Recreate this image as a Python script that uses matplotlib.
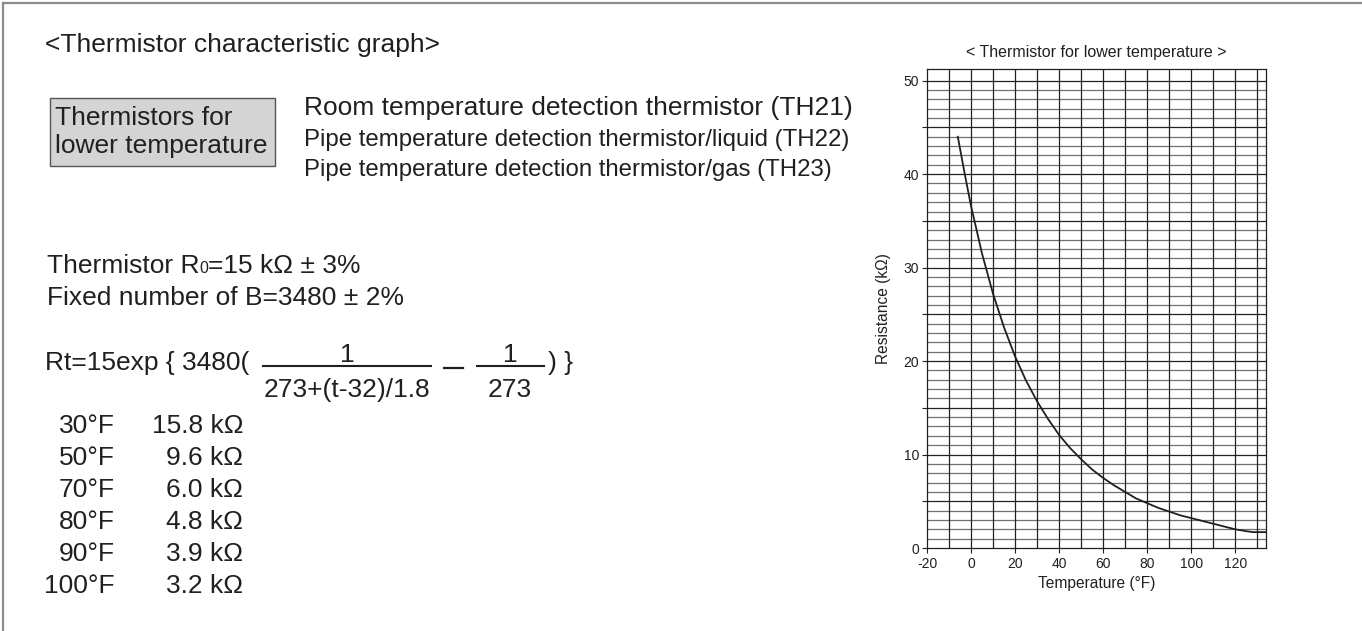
import numpy as np
import matplotlib
matplotlib.use("Agg")
import matplotlib.pyplot as plt
from matplotlib.lines import Line2D
from matplotlib.patches import Rectangle

plt.rcParams["font.family"] = ["Liberation Sans", "DejaVu Sans"]
plt.rcParams["axes.unicode_minus"] = False

W, H = 1362, 631
INK = "#231f20"

# curve: temperature (°F) vs resistance (kΩ)
temp_f = [-6, -3, 0, 5, 10, 15, 20, 25, 30, 35, 40, 45, 50, 55, 60, 65,
          70, 75, 80, 85, 90, 95, 100, 105, 110, 115, 120, 125, 128, 134]
res_kohm = [44.0, 40.2, 36.6, 31.5, 27.2, 23.6, 20.5, 17.9, 15.7, 13.8,
            12.1, 10.7, 9.5, 8.4, 7.5, 6.7, 6.0, 5.3, 4.8, 4.3, 3.9, 3.5,
            3.2, 2.9, 2.6, 2.3, 2.0, 1.8, 1.7, 1.7]

# table on the left
table_temps = ["30°F", "50°F", "70°F", "80°F", "90°F", "100°F"]
table_res = ["15.8 kΩ", "9.6 kΩ", "6.0 kΩ", "4.8 kΩ", "3.9 kΩ", "3.2 kΩ"]

sensor_lines = ["Room temperature detection thermistor (TH21)",
                "Pipe temperature detection thermistor/liquid (TH22)",
                "Pipe temperature detection thermistor/gas (TH23)"]

x_ticks = [-20, 0, 20, 40, 60, 80, 100, 120]
y_ticks = [0, 10, 20, 30, 40, 50]


def fx(x):
    return x / W


def fy(y):
    return 1 - y / H


fig = plt.figure(figsize=(W / 100, H / 100), dpi=100)

# outer frame (left and top edges visible)
fig.add_artist(Line2D([fx(3), fx(3)], [fy(3), fy(631)], color="#8c8c8c", lw=1.6))
fig.add_artist(Line2D([fx(3), fx(1362)], [fy(3), fy(3)], color="#8c8c8c", lw=1.6))

big = 19
fig.text(fx(45), fy(52), "<Thermistor characteristic graph>",
         fontsize=big, va="baseline", color=INK)

# grey box
fig.add_artist(Rectangle((fx(50), fy(166)), fx(275) - fx(50), fy(98) - fy(166),
                         transform=fig.transFigure, facecolor="#d4d4d4",
                         edgecolor="#555555", lw=1.0))
fig.text(fx(55), fy(125), "Thermistors for", fontsize=big, va="baseline", color=INK)
fig.text(fx(55), fy(153), "lower temperature", fontsize=big, va="baseline", color=INK)

fig.text(fx(304), fy(115), sensor_lines[0], fontsize=19, va="baseline", color=INK)
fig.text(fx(304), fy(146), sensor_lines[1], fontsize=17.3, va="baseline", color=INK)
fig.text(fx(304), fy(176), sensor_lines[2], fontsize=17.3, va="baseline", color=INK)

# R0 line with small 0
renderer = fig.canvas.get_renderer()
t1 = fig.text(fx(47), fy(273), "Thermistor R", fontsize=big, va="baseline", color=INK)
bb = t1.get_window_extent(renderer)
t2 = fig.text(bb.x1 / W, fy(273), "0", fontsize=11.5, va="baseline", color=INK)
bb2 = t2.get_window_extent(renderer)
fig.text(bb2.x1 / W, fy(273), "=15 kΩ ± 3%", fontsize=big, va="baseline", color=INK)

fig.text(fx(47), fy(305), "Fixed number of B=3480 ± 2%", fontsize=big,
         va="baseline", color=INK)

# formula
fig.text(fx(45), fy(370), "Rt=15exp { 3480(", fontsize=big, va="baseline", color=INK)
fig.add_artist(Line2D([fx(263), fx(431)], [fy(366), fy(366)], color=INK, lw=1.5))
fig.text(fx(347), fy(362), "1", fontsize=big, va="baseline", ha="center", color=INK)
fig.text(fx(347), fy(397), "273+(t-32)/1.8", fontsize=big, va="baseline",
         ha="center", color=INK)
fig.add_artist(Line2D([fx(444), fx(463)], [fy(368), fy(368)], color=INK, lw=1.6))
fig.add_artist(Line2D([fx(477), fx(544)], [fy(366), fy(366)], color=INK, lw=1.5))
fig.text(fx(510), fy(362), "1", fontsize=big, va="baseline", ha="center", color=INK)
fig.text(fx(510), fy(397), "273", fontsize=big, va="baseline", ha="center", color=INK)
fig.text(fx(548), fy(370), ") }", fontsize=big, va="baseline", color=INK)

for i, (tt, rr) in enumerate(zip(table_temps, table_res)):
    yb = 433 + i * 32
    fig.text(fx(115), fy(yb), tt, fontsize=big, va="baseline", ha="right", color=INK)
    fig.text(fx(243), fy(yb), rr, fontsize=big, va="baseline", ha="right", color=INK)

# graph
ax = fig.add_axes([fx(927), fy(548), fx(1266) - fx(927), fy(69) - fy(548)])
ax.set_xlim(-20, 134)
ax.set_ylim(0, 51.25)

for yv in range(1, 51):
    c = "#222222" if yv % 5 == 0 else "#707070"
    ax.axhline(yv, color=c, lw=0.9, zorder=1)
for xv in range(-10, 131, 10):
    ax.axvline(xv, color="#222222", lw=0.9, zorder=1)

ax.plot(temp_f, res_kohm, color=INK, lw=1.3, zorder=3)

for s in ax.spines.values():
    s.set_color(INK)
    s.set_linewidth(0.9)

ax.set_xticks(x_ticks)
ax.set_yticks(y_ticks)
ax.set_yticks(np.arange(5, 51, 10), minor=True)
ax.tick_params(axis="both", which="both", direction="out", length=3.6,
               width=0.8, color=INK, labelsize=10, labelcolor=INK)
ax.tick_params(axis="x", pad=3)
ax.tick_params(axis="y", pad=2.2)

ax.set_title("< Thermistor for lower temperature >", fontsize=11.5, pad=8.5, color=INK)
ax.set_xlabel("Temperature (°F)", fontsize=11.2, color=INK)
ax.set_ylabel("Resistance (kΩ)", fontsize=11.2, color=INK)
ax.xaxis.set_label_coords(0.5, -0.058)
ax.yaxis.set_label_coords(-0.105, 0.5)

fig.savefig("out.png", dpi=100)
